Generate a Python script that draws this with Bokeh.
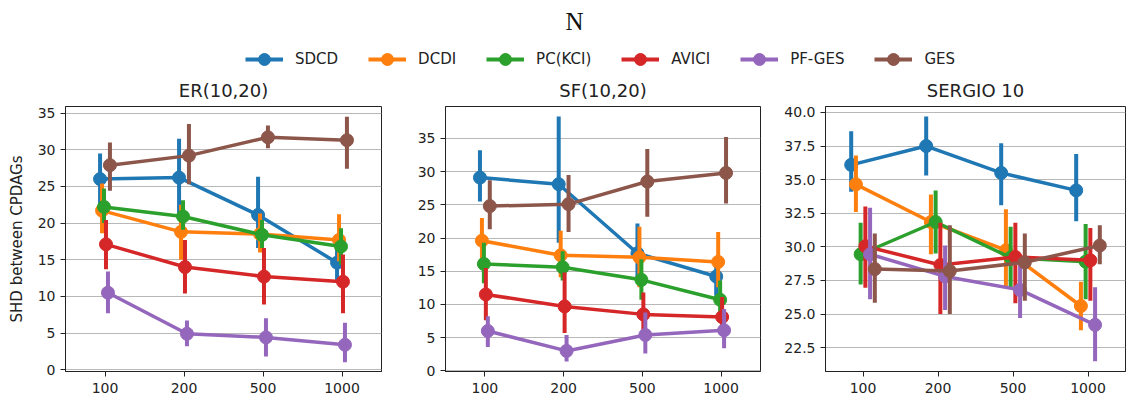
from bokeh.plotting import figure
from bokeh.layouts import column, row
from bokeh.models import (FactorRange, Range1d, FixedTicker, Legend, LegendItem,
                          Label, ColumnDataSource, PrintfTickFormatter)
from bokeh.transform import dodge
from bokeh.embed import file_html
from bokeh.resources import INLINE

# ---------------- data ----------------
N_LABELS = ["100", "200", "500", "1000"]
METHODS = ["SDCD", "DCDI", "PC(KCI)", "AVICI", "PF-GES", "GES"]
COLORS = ["#1f77b4", "#ff7f0e", "#2ca02c", "#d62728", "#9467bd", "#8c564b"]

# ER(10,20): mean, lower, upper
ER_SDCD = [26.0, 26.2, 21.1, 14.6]
ER_SDCD_LO = [22.5, 21.0, 16.6, 11.9]
ER_SDCD_HI = [29.5, 31.5, 26.3, 17.0]
ER_DCDI = [21.7, 18.8, 18.5, 17.7]
ER_DCDI_LO = [18.6, 15.0, 16.0, 14.8]
ER_DCDI_HI = [25.4, 22.5, 21.3, 21.2]
ER_PC = [22.2, 20.9, 18.4, 16.8]
ER_PC_LO = [20.0, 19.1, 16.6, 14.3]
ER_PC_HI = [24.7, 23.1, 20.4, 19.3]
ER_AVICI = [17.1, 14.0, 12.7, 12.0]
ER_AVICI_LO = [13.7, 10.4, 8.9, 7.7]
ER_AVICI_HI = [20.4, 17.7, 16.6, 15.7]
ER_PFGES = [10.5, 4.9, 4.4, 3.4]
ER_PFGES_LO = [7.7, 3.2, 1.8, 1.0]
ER_PFGES_HI = [13.4, 6.7, 7.0, 6.4]
ER_GES = [27.9, 29.2, 31.7, 31.3]
ER_GES_LO = [24.4, 25.3, 30.2, 27.4]
ER_GES_HI = [31.0, 33.5, 33.3, 34.5]

# SF(10,20)
SF_SDCD = [29.1, 28.1, 17.7, 14.2]
SF_SDCD_LO = [25.5, 19.3, 14.0, 11.3]
SF_SDCD_HI = [33.2, 38.3, 22.2, 16.2]
SF_DCDI = [19.6, 17.4, 17.1, 16.4]
SF_DCDI_LO = [17.0, 14.1, 12.6, 12.6]
SF_DCDI_HI = [23.0, 21.1, 21.7, 20.9]
SF_PC = [16.1, 15.6, 13.7, 10.7]
SF_PC_LO = [13.2, 13.6, 10.7, 8.8]
SF_PC_HI = [19.3, 18.0, 16.8, 13.6]
SF_AVICI = [11.5, 9.7, 8.5, 8.1]
SF_AVICI_LO = [7.6, 5.7, 5.6, 5.8]
SF_AVICI_HI = [15.5, 14.8, 11.8, 11.1]
SF_PFGES = [6.0, 3.0, 5.4, 6.1]
SF_PFGES_LO = [3.6, 1.4, 2.6, 3.4]
SF_PFGES_HI = [8.2, 5.4, 8.8, 9.3]
SF_GES = [24.8, 25.1, 28.5, 29.8]
SF_GES_LO = [21.3, 20.9, 23.2, 25.2]
SF_GES_HI = [28.7, 29.5, 33.4, 35.2]

# SERGIO 10
SG_SDCD = [36.1, 37.5, 35.5, 34.2]
SG_SDCD_LO = [34.1, 35.3, 33.1, 31.9]
SG_SDCD_HI = [38.6, 39.7, 37.7, 36.9]
SG_DCDI = [34.65, 31.85, 29.75, 25.6]
SG_DCDI_LO = [32.6, 29.45, 27.0, 23.8]
SG_DCDI_HI = [36.8, 33.9, 32.8, 27.4]
SG_PC = [29.45, 31.85, 29.2, 28.9]
SG_PC_LO = [27.2, 29.5, 27.0, 26.1]
SG_PC_HI = [31.8, 34.2, 31.5, 31.7]
SG_AVICI = [30.05, 28.65, 29.25, 29.0]
SG_AVICI_LO = [26.95, 25.0, 25.8, 26.0]
SG_AVICI_HI = [33.0, 31.8, 31.8, 31.4]
SG_PFGES = [29.45, 27.8, 26.8, 24.2]
SG_PFGES_LO = [26.1, 25.3, 24.7, 21.5]
SG_PFGES_HI = [32.9, 30.1, 29.1, 27.0]
SG_GES = [28.35, 28.2, 28.85, 30.1]
SG_GES_LO = [25.85, 25.0, 26.0, 28.7]
SG_GES_HI = [31.0, 31.6, 31.0, 31.6]

ER_SERIES = [(ER_SDCD, ER_SDCD_LO, ER_SDCD_HI), (ER_DCDI, ER_DCDI_LO, ER_DCDI_HI),
             (ER_PC, ER_PC_LO, ER_PC_HI), (ER_AVICI, ER_AVICI_LO, ER_AVICI_HI),
             (ER_PFGES, ER_PFGES_LO, ER_PFGES_HI), (ER_GES, ER_GES_LO, ER_GES_HI)]
SF_SERIES = [(SF_SDCD, SF_SDCD_LO, SF_SDCD_HI), (SF_DCDI, SF_DCDI_LO, SF_DCDI_HI),
             (SF_PC, SF_PC_LO, SF_PC_HI), (SF_AVICI, SF_AVICI_LO, SF_AVICI_HI),
             (SF_PFGES, SF_PFGES_LO, SF_PFGES_HI), (SF_GES, SF_GES_LO, SF_GES_HI)]
SG_SERIES = [(SG_SDCD, SG_SDCD_LO, SG_SDCD_HI), (SG_DCDI, SG_DCDI_LO, SG_DCDI_HI),
             (SG_PC, SG_PC_LO, SG_PC_HI), (SG_AVICI, SG_AVICI_LO, SG_AVICI_HI),
             (SG_PFGES, SG_PFGES_LO, SG_PFGES_HI), (SG_GES, SG_GES_LO, SG_GES_HI)]

FONT = "DejaVu Sans"
TXT = "#222222"
HEAD_H = 71
PANEL_H = 328


def make_panel(title, series, step, yr, ticks, width, bl, br, fmt=None, ylabel=None):
    p = figure(x_range=FactorRange(*N_LABELS), y_range=Range1d(*yr),
               width=width, height=PANEL_H, output_backend="svg", toolbar_location=None,
               title=title, min_border_left=bl, min_border_right=br,
               min_border_top=33, min_border_bottom=28)
    p.title.align = "center"
    p.title.text_font = FONT
    p.title.text_font_size = "18px"
    p.title.text_font_style = "normal"
    p.title.text_color = TXT
    p.title.standoff = 12
    p.outline_line_color = TXT
    p.outline_line_alpha = 1
    p.outline_line_width = 1
    p.xgrid.grid_line_color = None
    p.ygrid.grid_line_color = "#b8b8b8"
    p.ygrid.grid_line_width = 1.2
    p.yaxis.ticker = FixedTicker(ticks=ticks)
    if fmt:
        p.yaxis.formatter = PrintfTickFormatter(format=fmt)
    for ax in (p.xaxis[0], p.yaxis[0]):
        ax.axis_line_color = TXT
        ax.major_tick_line_color = TXT
        ax.major_tick_out = 5
        ax.major_tick_in = 0
        ax.minor_tick_line_color = None
        ax.major_label_text_font = FONT
        ax.major_label_text_font_size = "14px"
        ax.major_label_text_color = TXT
    p.xaxis.major_label_standoff = 6
    p.yaxis.major_label_standoff = 5
    if ylabel:
        p.yaxis.axis_label = ylabel
        p.yaxis.axis_label_text_font = FONT
        p.yaxis.axis_label_text_font_size = "15px"
        p.yaxis.axis_label_text_font_style = "normal"
        p.yaxis.axis_label_text_color = TXT
        p.yaxis.axis_label_standoff = 9
    for i, ((m, lo, hi), c) in enumerate(zip(series, COLORS)):
        off = (i - 2.5) * step
        src = ColumnDataSource(dict(N=N_LABELS, mean=m, lo=lo, hi=hi))
        xd = dodge("N", off, range=p.x_range)
        p.line(x=xd, y="mean", source=src, line_color=c, line_width=3.5)
        p.segment(x0=xd, y0="lo", x1=xd, y1="hi", source=src, line_color=c, line_width=4)
        p.scatter(x=xd, y="mean", source=src, size=13, fill_color=c, line_color=c)
    return p


p1 = make_panel("ER(10,20)", ER_SERIES, 0.025, (-0.25, 35.9), [0, 5, 10, 15, 20, 25, 30, 35],
                413, 65, 32, ylabel="SHD between CPDAGs")
p2 = make_panel("SF(10,20)", SF_SERIES, 0.025, (-0.1, 39.8), [0, 5, 10, 15, 20, 25, 30, 35],
                367, 32, 20)
p3 = make_panel("SERGIO 10", SG_SERIES, 0.063, (20.73, 40.44),
                [22.5, 25.0, 27.5, 30.0, 32.5, 35.0, 37.5, 40.0], 354, 45, 9, fmt="%.1f")

# ---------------- header: suptitle + legend ----------------
h = figure(width=1134, height=HEAD_H, x_range=Range1d(0, 1), y_range=Range1d(0, 1),
           output_backend="svg", toolbar_location=None, x_axis_type=None, y_axis_type=None,
           min_border=0, outline_line_color=None)
items = []
for name, c in zip(METHODS, COLORS):
    # legend proxies, placed outside the visible range of the header
    rl = h.line(x=[-2, -1], y=[-2, -1], line_color=c, line_width=4)
    rs = h.scatter(x=[-2], y=[-2], size=12, fill_color=c, line_color=c)
    items.append(LegendItem(label=name, renderers=[rl, rs]))
leg = Legend(items=items, orientation="horizontal", location=(245, -3),
             glyph_width=38, glyph_height=30, label_standoff=12, spacing=30,
             padding=0, margin=0, border_line_color=None, background_fill_alpha=0,
             label_text_font=FONT, label_text_font_size="15px", label_text_color=TXT)
h.add_layout(leg)
h.add_layout(Label(x=574, y=HEAD_H - 21, x_units="screen", y_units="screen", text="N",
                   text_font="Liberation Serif", text_font_size="25px", text_color="#111111",
                   text_align="center", text_baseline="middle"))

layout = column(h, row(p1, p2, p3, spacing=0), spacing=0)
open("out.html", "w").write(file_html(layout, INLINE))
